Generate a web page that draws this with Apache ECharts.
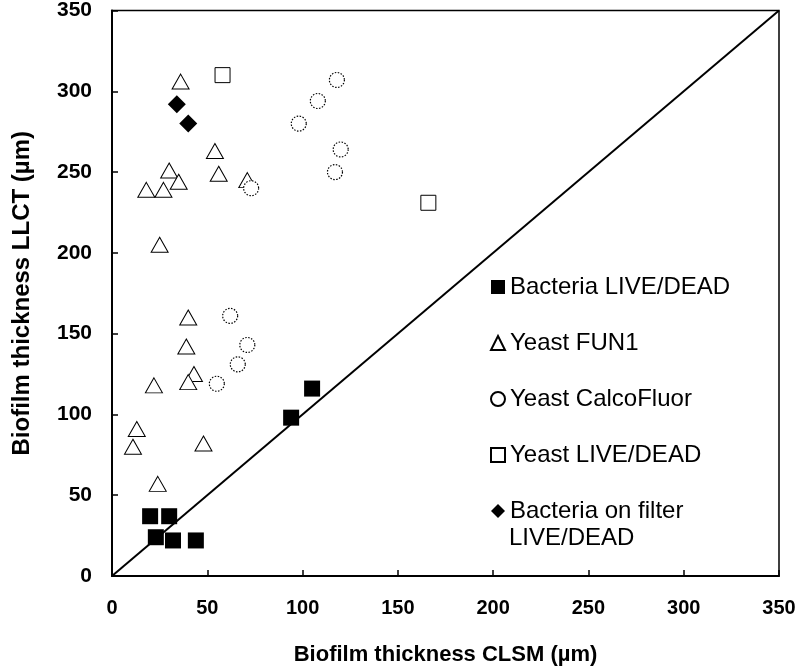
<!DOCTYPE html>
<html>
<head>
<meta charset="utf-8">
<script src="https://cdn.jsdelivr.net/npm/echarts@6/dist/echarts.min.js"></script>
<style>
  html, body { margin: 0; padding: 0; background: #fff; }
  #chart { width: 800px; height: 671px; }
</style>
</head>
<body>
<div id="chart"></div>
<script>
// axis ticks
const tickMin = 0;
const tickMax = 350;
const tickStep = 50;

// [CLSM, LLCT] pairs in µm
const bacteriaLiveDead = [[20, 37], [30, 37], [23, 24], [32, 22], [44, 22], [94, 98], [105, 116]];
const yeastFun1 = [
  [36, 306], [54, 263], [30, 251], [35, 244], [18, 239], [27, 239], [56, 249], [71, 245], [25, 205],
  [40, 160], [39, 142], [43, 125], [40, 120], [22, 118], [13, 91], [11, 80], [48, 82], [24, 57]
];
const yeastCalco = [[118, 307], [108, 294], [98, 280], [120, 264], [117, 250], [73, 240], [62, 161], [71, 143], [66, 131], [55, 119]];
const yeastLiveDead = [[58, 310], [166, 231]];
const bacteriaFilter = [[34, 292], [40, 280]];
// 1:1 line
const identityLine = [[0, 0], [350, 350]];

const seriesNames = ["Bacteria LIVE/DEAD", "Yeast FUN1", "Yeast CalcoFluor", "Yeast LIVE/DEAD", "Bacteria on filter"];

const chart = echarts.init(document.getElementById("chart"));

const openStyle = { color: "#fff", borderColor: "#000", borderWidth: 1, opacity: 1 };

const option = {
  animation: false,
  grid: {
    left: 112, right: 21, top: 10, bottom: 94,
    show: true, borderColor: "#000", borderWidth: 1.5, backgroundColor: "#fff"
  },
  legend: {
    orient: "vertical",
    left: 485,
    top: 270,
    itemGap: 32,
    itemWidth: 14,
    itemHeight: 14,
    data: seriesNames,
    textStyle: { fontFamily: "Arial, 'Liberation Sans'", fontSize: 24, color: "#000" }
  },
  graphic: [{
    type: "text",
    left: 509,
    top: 526,
    style: { text: "LIVE/DEAD", font: "24px Arial, 'Liberation Sans'", fill: "#000" }
  }],
  xAxis: {
    type: "value",
    min: tickMin, max: tickMax, interval: tickStep,
    name: "Biofilm thickness CLSM (\u00b5m)",
    nameLocation: "middle",
    nameGap: 68,
    nameTextStyle: { fontFamily: "Arial, 'Liberation Sans'", fontWeight: "bold", fontSize: 22, color: "#000" },
    axisLine: { lineStyle: { color: "#000", width: 2 } },
    axisTick: { inside: true, length: 6, lineStyle: { color: "#000", width: 1.5 } },
    axisLabel: { margin: 22, fontFamily: "Arial, 'Liberation Sans'", fontWeight: "bold", fontSize: 20, color: "#000" },
    splitLine: { show: false }
  },
  yAxis: {
    type: "value",
    min: tickMin, max: tickMax, interval: tickStep,
    name: "Biofilm thickness LLCT (\u00b5m)",
    nameLocation: "middle",
    nameGap: 78,
    nameTextStyle: { fontFamily: "Arial, 'Liberation Sans'", fontWeight: "bold", fontSize: 24, color: "#000" },
    axisLine: { lineStyle: { color: "#000", width: 2 } },
    axisTick: { inside: true, length: 6, lineStyle: { color: "#000", width: 1.5 } },
    axisLabel: { margin: 20, fontFamily: "Arial, 'Liberation Sans'", fontWeight: "bold", fontSize: 21, color: "#000" },
    splitLine: { show: false }
  },
  series: [
    {
      type: "line", data: identityLine, symbol: "none", silent: true,
      lineStyle: { color: "#000", width: 2 }, z: 1
    },
    {
      name: seriesNames[0], type: "scatter", data: bacteriaLiveDead,
      symbol: "rect", symbolSize: 16, itemStyle: { color: "#000", opacity: 1 }, z: 3
    },
    {
      name: seriesNames[1], type: "scatter", data: yeastFun1,
      symbol: "triangle", symbolSize: [17, 15], itemStyle: openStyle, z: 3
    },
    {
      name: seriesNames[2], type: "scatter", data: yeastCalco,
      symbol: "circle", symbolSize: 15,
      itemStyle: { color: "#fff", borderColor: "#000", borderWidth: 1.2, borderType: [1.5, 1.5], opacity: 1 }, z: 3
    },
    {
      name: seriesNames[3], type: "scatter", data: yeastLiveDead,
      symbol: "rect", symbolSize: 15, itemStyle: openStyle, z: 3
    },
    {
      name: seriesNames[4], type: "scatter", data: bacteriaFilter,
      symbol: "diamond", symbolSize: 18, itemStyle: { color: "#000", opacity: 1 }, z: 3
    }
  ]
};

chart.setOption(option);
</script>
</body>
</html>
